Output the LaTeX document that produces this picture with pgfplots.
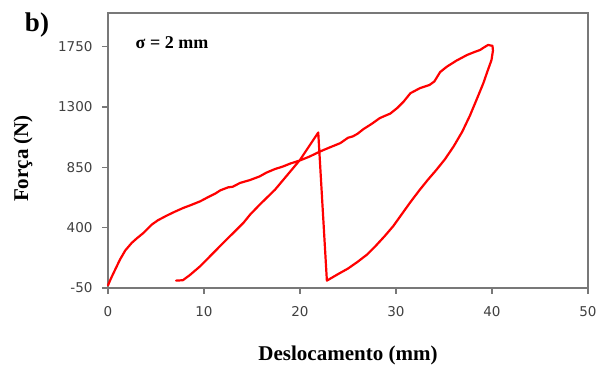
\documentclass[border=0pt]{standalone}
\usepackage{pgfplots}
\pgfplotsset{compat=1.18}
\usepackage{fontspec}
\setmainfont{Liberation Serif}
\newfontfamily\tickfont{DejaVu Sans}
\definecolor{axgray}{RGB}{120,120,120}
\definecolor{ticktext}{RGB}{64,64,64}
\begin{document}
\begin{tikzpicture}[x=1pt,y=1pt]
\path[use as bounding box] (0,0) rectangle (608,369);
\begin{axis}[
  at={(108pt,81pt)}, anchor=south west,
  scale only axis, width=480pt, height=275pt,
  xmin=0, xmax=50, ymin=-50, ymax=2000,
  xtick={0,10,20,30,40,50}, ytick={-50,400,850,1300,1750},
  tick align=outside, xtick pos=bottom, ytick pos=left,
  major tick length=6pt,
  axis line style={draw=axgray, line width=1.3pt},
  every tick/.style={draw=axgray, line width=1.3pt},
  tick label style={font=\tickfont\fontsize{13.5}{15}\selectfont, text=ticktext},
  xticklabel style={yshift=-9pt},
  yticklabel style={xshift=-6pt},
  /pgf/number format/assume math mode=true,
  /pgf/number format/1000 sep={},
  xlabel={\bfseries Deslocamento (mm)},
  ylabel={\bfseries Força (N)},
  label style={font=\fontsize{21}{24}\selectfont},
  xlabel style={at={([yshift=-67pt]axis description cs:0.5,0)}, anchor=center},
  ylabel style={at={([xshift=-85pt,yshift=-8pt]axis description cs:0,0.5)}, anchor=center},
  clip=false,
]
\addplot[color={rgb,255:red,255;green,0;blue,0}, line width=2.2pt, line join=round, line cap=round] coordinates {
(0,-30) (0.3,20) (0.7,80) (1.25,162) (1.8,230) (2.47,286) (3.0,320) (3.7,361) (4.55,422) (5.2,455) (6.1,489) (7.0,520) (7.85,547) (8.7,570) (9.6,596) (10.5,630) (11.2,655) (11.7,678) (12.5,700) (13.0,705) (13.75,733) (14.8,755) (15.8,782) (16.5,810) (17.4,837) (18.2,855) (19.0,878) (20,901) (21.0,930) (22.1,968) (23.0,995) (24.2,1030) (25.0,1070) (25.5,1080) (26.0,1100) (26.6,1134) (27.5,1175) (28.3,1216) (28.8,1232) (29.4,1250) (30.1,1290) (30.8,1340) (31.5,1402) (32.5,1440) (33.5,1464) (34.0,1490) (34.6,1560) (35.3,1600) (36.3,1645) (37.4,1687) (38.2,1710) (38.75,1724) (39.2,1745) (39.6,1762) (40.05,1755)
(40.1,1720) (39.95,1650) (39.5,1560) (39.1,1477) (38.4,1355) (37.7,1235) (36.9,1115) (36.0,1005) (35.1,910) (34.2,830) (33.3,755) (32.4,675) (31.5,590) (30.6,500) (29.7,410) (28.8,335) (27.9,265) (27.0,200) (26.0,145) (25.0,95) (24.0,55) (22.8,5)
(21.9,1109) (20,905) (17.4,683) (15.8,571) (14.8,497) (14.1,435) (12,286) (9.6,112) (8.5,45) (7.8,8) (7.1,5)
};
\end{axis}
\node[font=\bfseries\fontsize{27}{30}\selectfont] at (37,344) {b)};
\node[font=\bfseries\fontsize{18}{20}\selectfont] at (172,326) {σ = 2 mm};
\end{tikzpicture}
\end{document}
